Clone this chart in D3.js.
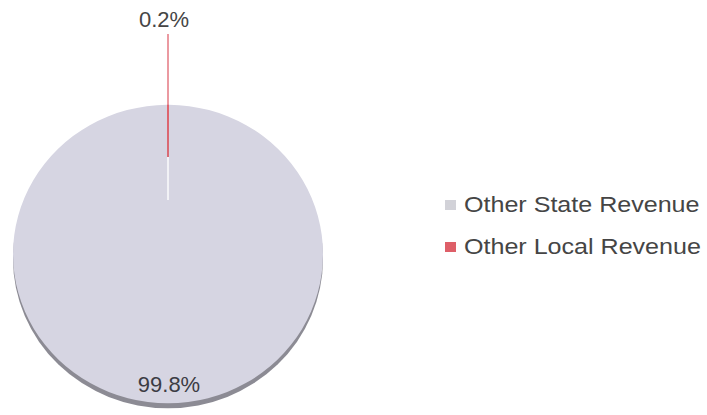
<!DOCTYPE html>
<html>
<head>
<meta charset="utf-8">
<script src="https://cdn.jsdelivr.net/npm/d3@7"></script>
<style>
  html, body { margin: 0; padding: 0; background: #ffffff; }
  svg { display: block; font-family: "Liberation Sans", Arial, sans-serif; }
</style>
</head>
<body>
<svg id="chart" width="707" height="415"></svg>
<script>
// Revenue shares (percent)
const categories = ["Other State Revenue", "Other Local Revenue"];
const values = [99.8, 0.2];
const labels = ["99.8%", "0.2%"];
const colors = ["#d6d5e2", "#e0646e"];
const legendColors = ["#d2d2d8", "#de5f68"];

const svg = d3.select("#chart");
const cx = 168, cy = 254, r = 155, squash = 0.963;

const pie = d3.pie().sort(null).value(d => d)
  .startAngle(0.0063).endAngle(2 * Math.PI + 0.0063);
const arcs = pie(values);
const arc = d3.arc().innerRadius(0).outerRadius(r);

// shadowed rim under the disc
const rim = svg.append("g").attr("transform", `translate(${cx},${cy + 5}) scale(1,${squash})`);
rim.append("circle").attr("r", r).attr("fill", "#8c8b94");

const g = svg.append("g").attr("transform", `translate(${cx},${cy}) scale(1,${squash})`);
g.selectAll("path.slice")
  .data(arcs)
  .enter().append("path")
  .attr("class", "slice")
  .attr("d", arc)
  .attr("fill", (d, i) => colors[i]);

// sheen over the inner part of the thin slice
const small = arcs[1];
const mid = (small.startAngle + small.endAngle) / 2;
const lx = cx + Math.sin(mid) * r * 0.66;
const yA = 157, yB = 200;
svg.append("line")
  .attr("x1", lx).attr("x2", lx)
  .attr("y1", yA).attr("y2", yB)
  .attr("stroke", "#f2f2f6").attr("stroke-width", 2);
svg.append("line")
  .attr("x1", lx).attr("x2", lx)
  .attr("y1", yB).attr("y2", cy)
  .attr("stroke", colors[0]).attr("stroke-width", 2);

// leader line for the small slice
svg.append("line")
  .attr("x1", lx).attr("x2", lx)
  .attr("y1", 34).attr("y2", yA)
  .attr("stroke", colors[1]).attr("stroke-width", 1.3);

// percentage labels
svg.append("text")
  .attr("x", 164).attr("y", 27)
  .attr("text-anchor", "middle")
  .attr("font-size", 22).attr("fill", "#454545")
  .text(labels[1]);
svg.append("text")
  .attr("x", 169).attr("y", 392)
  .attr("text-anchor", "middle")
  .attr("font-size", 22).attr("fill", "#3c3c44")
  .text(labels[0]);

// legend
const legend = svg.append("g").attr("transform", "translate(445,200)");
const item = legend.selectAll("g.item")
  .data(categories)
  .enter().append("g")
  .attr("class", "item")
  .attr("transform", (d, i) => `translate(0,${i * 42})`);
item.append("rect")
  .attr("x", 0).attr("y", 0).attr("width", 11).attr("height", 10)
  .attr("fill", (d, i) => legendColors[i]);
item.append("text")
  .attr("transform", "translate(19,12) scale(1.14,1)")
  .attr("font-size", 22).attr("fill", "#454545")
  .text(d => d);
</script>
</body>
</html>
